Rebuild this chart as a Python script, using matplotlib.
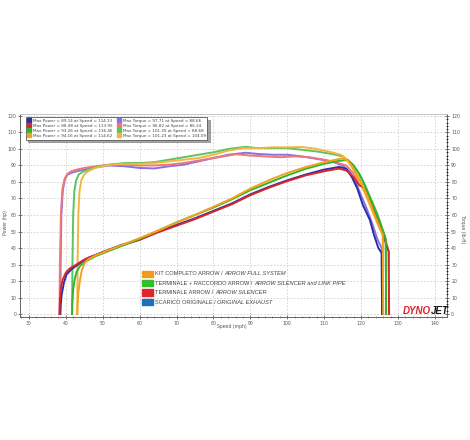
import matplotlib.pyplot as plt
from matplotlib.lines import Line2D
from matplotlib.patches import Rectangle

# --- data (speed in mph, power in hp, torque in lb-ft) ---
# SCARICO ORIGINALE (blue)
orig_pw_x = [38.5, 38.6, 38.9, 39.5, 40.2, 41.5, 43, 46, 50, 55, 60, 64, 70, 75, 80, 85, 90, 95, 100, 105, 110, 114.1,
             116, 117.5, 119, 120.5, 122.4, 123.5, 124.7, 125.6, 125.7]
orig_pw_y = [0, 5, 12, 19, 24, 27, 29.5, 34, 37.5, 41.8, 45, 49, 54, 58, 62.5, 67, 72.5, 77, 81, 84.5, 87.5, 89.1,
             88, 83, 76, 66, 57, 48, 40, 37, 0]
orig_tq_x = [38.5, 38.6, 38.8, 39.2, 39.8, 40.5, 41.5, 43, 45, 48, 52, 56, 60, 64, 68, 72, 76, 80, 84, 88.7, 92, 96,
             100, 104, 108, 112, 115, 117, 118.5, 120, 121.5, 123, 124.5, 125.6, 125.7]
orig_tq_y = [0, 30, 60, 75, 82, 84.5, 85.5, 86.5, 87.5, 89, 90, 89.5, 88.5, 88.2, 89.5, 90.5, 92.5, 94.5, 96.5, 97.7,
             97, 96.5, 96.5, 95.5, 94, 92.5, 90, 86, 80, 72, 64, 55, 45, 40, 0]

# TERMINALE ARROW (red)
term_pw_x = [38.3, 38.4, 38.7, 39.2, 40, 41, 42.5, 45, 50, 55, 60, 65, 70, 75, 80, 85, 90, 95, 100, 105, 110, 113.95,
             116, 118, 119.5, 120.5, 121.5, 123, 124.5, 126, 127, 127.5, 127.6]
term_pw_y = [0, 8, 16, 21, 25, 27.5, 29.5, 33, 37.5, 41.5, 45, 49.5, 53.5, 57.5, 62, 66.5, 72, 76.5, 80.5, 84, 86.5, 88.1,
             87, 83, 78, 77, 74, 66, 58, 48, 41, 38, 0]
term_tq_x = [38.3, 38.4, 38.7, 39.1, 39.7, 40.5, 41.5, 43, 45, 48, 52, 56, 60, 64, 68, 72, 76, 80, 84, 86.2, 90, 94,
             98, 102, 106, 110, 113, 116, 118, 120, 121.5, 123, 124.5, 126, 127, 127.5, 127.6]
term_tq_y = [0, 30, 62, 76, 82, 85, 86.5, 87.5, 88.5, 89.5, 90.5, 90.5, 90, 90, 90.5, 91.5, 93, 94.5, 96, 96.8, 96,
             95.5, 95, 95.5, 95, 93.5, 92, 90, 85, 78, 74, 68, 60, 50, 42, 38, 0]

# TERMINALE + RACCORDO (green)
racc_pw_x = [41.7, 41.8, 42, 42.4, 43, 44, 45.5, 48, 52, 56, 60, 65, 70, 75, 80, 85, 90, 95, 100, 105, 110, 114,
             116.5, 118, 119.5, 121, 122.5, 124, 125.5, 126.5, 126.7, 126.8]
racc_pw_y = [0, 8, 15, 21, 26, 29.5, 32, 35, 38.5, 42, 45.5, 50.5, 55.5, 60, 64.5, 69.5, 75, 79.5, 84, 88, 91, 92.8,
             93.3, 90, 85, 78, 70, 62, 53, 47, 45, 0]
racc_tq_x = [41.7, 41.8, 42, 42.3, 42.8, 43.5, 44.5, 46, 48, 52, 56, 60, 64, 68, 72, 76, 80, 84, 88.7, 92, 96, 100,
             104, 108, 112, 115, 117, 118.5, 120, 121.5, 123, 124.5, 126, 126.7, 126.8]
racc_tq_y = [0, 30, 60, 74, 81, 84.5, 86, 87.5, 89, 90.5, 91.5, 91.5, 92, 93.5, 95, 96.5, 98, 100, 101.3, 100.5, 100.5,
             100.5, 99.5, 98.5, 97, 95.5, 92, 88, 83, 76, 68, 60, 50, 45, 0]

# KIT COMPLETO (orange)
kit_pw_x = [43.1, 43.2, 43.4, 43.8, 44.3, 45, 46, 48, 52, 56, 60, 65, 70, 75, 80, 85, 90, 95, 100, 105, 110, 114.6,
            116.5, 118, 119.5, 121, 122.5, 124, 125.5, 125.9, 126.0]
kit_pw_y = [0, 6, 13, 20, 26, 30.5, 33, 35.5, 39, 42.5, 46, 50.5, 55.5, 60, 65, 70, 76, 81, 85.5, 89, 92, 94.2,
            93, 88, 82, 75, 67, 58, 50, 48, 0]
kit_tq_x = [43.1, 43.2, 43.4, 43.7, 44.2, 45, 46, 48, 52, 56, 60, 64, 68, 72, 76, 80, 84, 88, 92, 96, 100, 104.1,
            108, 112, 114.5, 116, 117.5, 119, 120.5, 122, 123.5, 125, 125.9, 126.0]
kit_tq_y = [0, 30, 60, 74, 81, 84.5, 86.5, 88.5, 90.5, 91, 91, 91.5, 92.5, 93.5, 94.5, 96.5, 99, 100.5, 100.5, 101,
            101, 101.2, 100, 98, 96.5, 94, 89, 83, 76, 68, 60, 52, 48, 0]

max_labels_pw = ["Max Power = 89.14 at Speed = 114.13", "Max Power = 88.08 at Speed = 113.95",
                 "Max Power = 93.26 at Speed = 116.46", "Max Power = 94.16 at Speed = 114.62"]
max_labels_tq = ["Max Torque = 97.71 at Speed = 88.66", "Max Torque = 96.82 at Speed = 86.24",
                 "Max Torque = 101.35 at Speed = 88.68", "Max Torque = 101.23 at Speed = 104.09"]

run_labels = [("KIT COMPLETO ARROW / ", "ARROW FULL SYSTEM"),
              ("TERMINALE + RACCORDO ARROW / ", "ARROW SILENCER and LINK PIPE"),
              ("TERMINALE ARROW / ", "ARROW SILENCER"),
              ("SCARICO ORIGINALE / ", "ORIGINAL EXHAUST")]

pw_colors = ["#2b2fa6", "#d8262a", "#2fb52f", "#f2a21e"]
tq_colors = ["#8a6fe0", "#ee7878", "#5cc45c", "#f4b443"]
box_colors = ["#f29a1e", "#2fbf2f", "#e0262a", "#1f6fb8"]

# --- figure ---
fig = plt.figure(figsize=(4.7, 4.4), dpi=100)
ax = fig.add_axes([0.0426, 0.2795, 0.9085, 0.4615])

runs_pw = [(orig_pw_x, orig_pw_y), (term_pw_x, term_pw_y), (racc_pw_x, racc_pw_y), (kit_pw_x, kit_pw_y)]
runs_tq = [(orig_tq_x, orig_tq_y), (term_tq_x, term_tq_y), (racc_tq_x, racc_tq_y), (kit_tq_x, kit_tq_y)]

for (x, y), c in zip(runs_tq, tq_colors):
    ax.plot(x, y, color=c, lw=1.4, solid_joinstyle='round')
for (x, y), c in zip(runs_pw, pw_colors):
    ax.plot(x, y, color=c, lw=1.4, solid_joinstyle='round')

ax.set_xlim(27.6, 143.3)
ax.set_ylim(-1.8, 121.2)
ax.set_xticks(range(30, 141, 10))
ax.set_xticks(range(28, 143, 2), minor=True)
ax.set_yticks(range(0, 121, 10))
ax.grid(True, color='#cfcfcf', ls=(0, (2, 2)), lw=0.6)
ax.tick_params(axis='both', labelsize=3.3, labelcolor='#555555', color='#666666', length=2.5, width=0.6,
               direction='inout', pad=1.5)
ax.tick_params(axis='x', which='minor', length=2, width=0.5, direction='inout', color='#666666')
for s in ['left', 'bottom']:
    ax.spines[s].set_color('#666666')
    ax.spines[s].set_linewidth(0.7)
ax.spines['top'].set_color('#bbbbbb')
ax.spines['top'].set_linewidth(0.6)
ax.spines['right'].set_color('#666666')
ax.spines['right'].set_linewidth(0.7)

ax2 = ax.twinx()
ax2.set_ylim(ax.get_ylim())
ax2.set_yticks(range(0, 121, 10))
ax2.set_yticks(range(0, 121, 2), minor=True)
ax2.tick_params(axis='y', labelsize=3.3, labelcolor='#555555', color='#555555', length=3, width=0.6,
                direction='inout', pad=1.5)
ax2.tick_params(axis='y', which='minor', length=2, width=0.5, direction='inout')
for s in ax2.spines.values():
    s.set_visible(False)

fig.text(0.012, 0.495, "Power (hp)", rotation=90, fontsize=3.3, color='#555555', ha='center', va='center')
fig.text(0.984, 0.48, "Torque (lb-ft)", rotation=270, fontsize=3.3, color='#555555', ha='center', va='center')
fig.text(0.494, 0.258, "Speed (mph)", fontsize=3.3, color='#555555', ha='center', va='center')

# max value legend box
handles = [Line2D([], [], ls='none', marker='s', ms=2.2, color=c) for c in pw_colors + tq_colors]
leg = ax2.legend(handles, max_labels_pw + max_labels_tq, ncol=2, loc='upper left', bbox_to_anchor=(0.008, 0.995),
                 fontsize=3.0, frameon=True, fancybox=False, shadow=True, edgecolor='#555555',
                 handlelength=0.8, handletextpad=0.5, columnspacing=1.2, labelspacing=0.25, borderpad=0.4,
                 labelcolor='#444444')
leg.get_frame().set_linewidth(0.6)

# run legend
fam = ['Liberation Sans', 'DejaVu Sans']
for i, (normal, italic) in enumerate(run_labels):
    yy = 0.213 - i * 0.0465
    ax2.add_patch(Rectangle((0.285, yy - 0.016), 0.027, 0.032, transform=ax2.transAxes,
                            color=box_colors[i], clip_on=False))
    t = ax2.text(0.316, yy, normal, transform=ax2.transAxes, fontsize=4.1, family=fam, color='#444444',
                 va='center', ha='left')
    ax2.annotate(italic, xy=(1, 0), xycoords=t, va='bottom', ha='left', fontsize=4.1, family=fam,
                 style='italic', color='#444444')

# dynojet logo
t = ax2.text(0.897, 0.006, "DYNO", transform=ax2.transAxes, fontsize=7, fontweight='bold', style='italic',
             color='#e0202a', va='bottom', ha='left', family=fam)
ax2.annotate("JET", xy=(1, 0), xycoords=t, va='bottom', ha='left', fontsize=7, fontweight='bold',
             style='italic', color='#1a1a1a', family=fam)

fig.savefig("out.png", dpi=100)
